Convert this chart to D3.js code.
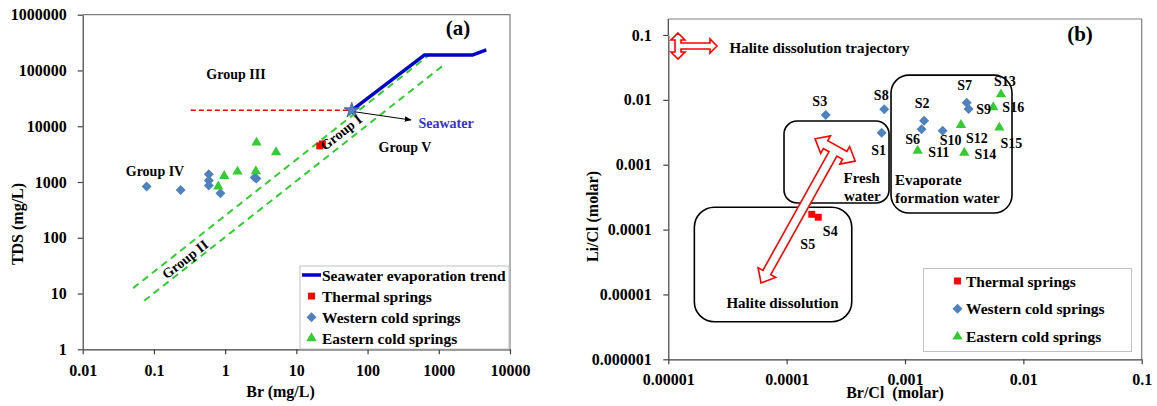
<!DOCTYPE html>
<html>
<head>
<meta charset="utf-8">
<script src="https://cdn.jsdelivr.net/npm/d3@7"></script>
<style>
  html, body { margin: 0; padding: 0; background: #fff; }
  svg text { font-family: "Liberation Serif", "Times New Roman", serif; font-weight: bold; }
</style>
</head>
<body>
<svg id="chart" width="1157" height="406"></svg>
<script>
// ---------- Panel (a): Br vs TDS ----------
const brTickValues = [0.01, 0.1, 1, 10, 100, 1000, 10000];
const brTickLabels = ["0.01", "0.1", "1", "10", "100", "1000", "10000"];
const tdsTickValues = [1, 10, 100, 1000, 10000, 100000, 1000000];
const tdsTickLabels = ["1", "10", "100", "1000", "10000", "100000", "1000000"];

const thermalBr = [23.2, 21.3];
const thermalTDS = [4820, 4440];
const westernBr = [0.079, 0.237, 0.59, 0.59, 0.59, 0.86, 2.6, 2.75];
const westernTDS = [828, 721, 1380, 1059, 862, 630, 1210, 1150];
const easternBr = [0.80, 0.97, 1.49, 2.76, 2.70, 5.19];
const easternTDS = [828, 1285, 1536, 5080, 1563, 3420];
const seawaterBr = [60];
const seawaterTDS = [19300];
const trendBr = [60, 632, 3010, 4640];
const trendTDS = [19300, 190000, 190000, 233000];
const halitePathBr = [0.33, 60];
const halitePathTDS = [19300, 19300];
const upperGuideBr = [0.051, 785];
const upperGuideTDS = [12.5, 203000];
const lowerGuideBr = [0.073, 1167];
const lowerGuideTDS = [7.4, 125000];

// ---------- Panel (b): Br/Cl vs Li/Cl ----------
const brclTickValues = [1e-5, 1e-4, 1e-3, 1e-2, 1e-1];
const brclTickLabels = ["0.00001", "0.0001", "0.001", "0.01", "0.1"];
const liclTickValues = [1e-6, 1e-5, 1e-4, 1e-3, 1e-2, 1e-1];
const liclTickLabels = ["0.000001", "0.00001", "0.0001", "0.001", "0.01", "0.1"];

const thermalNames = ["S5", "S4"];
const thermalBrCl = [0.000163, 0.000185];
const thermalLiCl = [0.000172, 0.000155];
const westernNames = ["S3", "S8", "S1", "S2", "S6", "S10", "S7", "S9"];
const westernBrCl = [0.000214, 0.000668, 0.000635, 0.00145, 0.00138, 0.00208, 0.00332, 0.00345];
const westernLiCl = [0.00585, 0.00715, 0.00312, 0.00477, 0.00352, 0.00335, 0.00904, 0.00723];
const easternNames = ["S13", "S16", "S12", "S15", "S11", "S14"];
const easternBrCl = [0.00647, 0.00557, 0.00297, 0.00627, 0.00128, 0.00317];
const easternLiCl = [0.01217, 0.00768, 0.0041, 0.00373, 0.00164, 0.00153];

// Field boxes in data units: [brclMin, brclMax, liclMin, liclMax]
const freshBox = [9.5e-5, 7.33e-4, 2.57e-4, 4.72e-3];
const evaporiteBox = [7.62e-4, 8.02e-3, 1.80e-4, 2.41e-2];
const haliteBox = [1.66e-5, 3.55e-4, 3.80e-6, 2.21e-4];
// Halite dissolution trajectory: crossbar centre -> tip
const trajectoryBrCl = [2.57e-4, 6.07e-5];
const trajectoryLiCl = [1.69e-3, 1.50e-5];

// label offsets (px) for sample names
const labelOffsets = {
  S3: [-6, -14], S8: [-3, -14], S1: [-3, 17], S2: [-2, -18], S6: [-9, 10],
  S10: [8, 9], S7: [-2, -18], S9: [15, 0], S13: [4, -13], S16: [20, 0],
  S12: [16, 13], S15: [12, 15], S11: [21, 1], S14: [21, 1], S4: [12, 14], S5: [-4, 30]
};

const COL_RED = "#ff0000", COL_BLUE = "#4f81bd", COL_GREEN = "#33cc33";

const svg = d3.select("#chart");

// ---------- helpers ----------
// diamond = square turned 45 degrees
const diamondPath = d3.symbol().type(d3.symbolSquare).size(50)();
const square = d3.symbol().type(d3.symbolSquare).size(48);
const triangle = d3.symbol().type(d3.symbolTriangle).size(46);
const star = d3.symbol().type(d3.symbolStar).size(75);

function styleAxis(g) {
  g.select(".domain").attr("stroke", "#404040").attr("stroke-width", 1.2);
  g.selectAll(".tick line").attr("stroke", "#404040").attr("stroke-width", 1.2);
  g.selectAll(".tick text").attr("fill", "#000").attr("font-size", 16)
    .attr("font-family", "Liberation Serif").attr("font-weight", "bold");
}

function tArrow(g, x0, y0, x1, y1, C, w, hw, hl) {
  const L = Math.hypot(x1 - x0, y1 - y0);
  const ang = Math.atan2(y1 - y0, x1 - x0) * 180 / Math.PI;
  const pts = [
    [0, -C], [hw, -C + hl], [w, -C + hl], [w, -w], [L - hl, -w], [L - hl, -hw], [L, 0],
    [L - hl, hw], [L - hl, w], [w, w], [w, C - hl], [hw, C - hl], [0, C],
    [-hw, C - hl], [-w, C - hl], [-w, -C + hl], [-hw, -C + hl]
  ];
  g.append("path")
    .attr("d", "M" + pts.map(p => p.join(",")).join("L") + "Z")
    .attr("transform", `translate(${x0},${y0}) rotate(${ang})`)
    .attr("fill", "#fff").attr("stroke", COL_RED).attr("stroke-width", 1.6)
    .attr("stroke-linejoin", "miter");
}

// ================= Panel (a) =================
const xA = d3.scaleLog().domain([0.01, 10000]).range([82.7, 510]);
const yA = d3.scaleLog().domain([1, 1e6]).range([349.3, 14.7]);
const gA = svg.append("g");

// plot frame (top / right)
gA.append("path")
  .attr("d", `M${xA(0.01)},${yA(1e6)}H${xA(10000)}V${yA(1)}`)
  .attr("fill", "none").attr("stroke", "#808080").attr("stroke-width", 1.2);

const axA_x = gA.append("g").attr("transform", `translate(0,${yA(1)})`)
  .call(d3.axisBottom(xA).tickValues(brTickValues)
    .tickFormat((d, i) => brTickLabels[i]).tickSize(5).tickSizeOuter(0).tickPadding(10));
styleAxis(axA_x);
const axA_y = gA.append("g").attr("transform", `translate(${xA(0.01)},0)`)
  .call(d3.axisLeft(yA).tickValues(tdsTickValues)
    .tickFormat((d, i) => tdsTickLabels[i]).tickSize(5).tickSizeOuter(0).tickPadding(11));
styleAxis(axA_y);

const lineA = d3.line().x(d => xA(d[0])).y(d => yA(d[1]));

// slope-one guide lines (Group I / II)
[[upperGuideBr, upperGuideTDS], [lowerGuideBr, lowerGuideTDS]].forEach(([bx, ty]) => {
  gA.append("path").attr("d", lineA(d3.zip(bx, ty)))
    .attr("fill", "none").attr("stroke", COL_GREEN).attr("stroke-width", 2)
    .attr("stroke-dasharray", "7,5");
});

// halite dissolution line to seawater
gA.append("path").attr("d", lineA(d3.zip(halitePathBr, halitePathTDS)))
  .attr("fill", "none").attr("stroke", COL_RED).attr("stroke-width", 1.6)
  .attr("stroke-dasharray", "5,3");

// seawater evaporation trend
gA.append("path").attr("d", lineA(d3.zip(trendBr, trendTDS)))
  .attr("fill", "none").attr("stroke", "#0000cc").attr("stroke-width", 3.5)
  .attr("stroke-linejoin", "round");

// points
gA.selectAll(".wA").data(d3.zip(westernBr, westernTDS)).join("path")
  .attr("d", diamondPath).attr("fill", COL_BLUE)
  .attr("transform", d => `translate(${xA(d[0])},${yA(d[1])}) rotate(45)`);
gA.selectAll(".eA").data(d3.zip(easternBr, easternTDS)).join("path")
  .attr("d", triangle).attr("fill", COL_GREEN)
  .attr("transform", d => `translate(${xA(d[0])},${yA(d[1])})`);
gA.selectAll(".tA").data(d3.zip(thermalBr, thermalTDS)).join("path")
  .attr("d", square).attr("fill", COL_RED)
  .attr("transform", d => `translate(${xA(d[0])},${yA(d[1])})`);
gA.selectAll(".sA").data(d3.zip(seawaterBr, seawaterTDS)).join("path")
  .attr("d", star).attr("fill", COL_BLUE).attr("stroke", "#3d5f8a").attr("stroke-width", 0.8)
  .attr("transform", d => `translate(${xA(d[0])},${yA(d[1])})`);

// seawater pointer
svg.append("defs").append("marker").attr("id", "ah")
  .attr("viewBox", "0 0 10 10").attr("refX", 9).attr("refY", 5)
  .attr("markerWidth", 7).attr("markerHeight", 7).attr("orient", "auto")
  .append("path").attr("d", "M0,1L10,5L0,9Z").attr("fill", "#000");
gA.append("line")
  .attr("x1", xA(seawaterBr[0]) + 3).attr("y1", yA(seawaterTDS[0]) + 1.5)
  .attr("x2", 411).attr("y2", 120)
  .attr("stroke", "#000").attr("stroke-width", 1).attr("marker-end", "url(#ah)");

// annotations
const txt = (g, x, y, s, size, opt = {}) => g.append("text")
  .attr("x", x).attr("y", y).attr("font-size", size)
  .attr("text-anchor", opt.anchor || "middle").attr("fill", opt.fill || "#000")
  .attr("transform", opt.rotate ? `rotate(${opt.rotate},${x},${y})` : null)
  .text(s);

txt(gA, 458, 35, "(a)", 21);
txt(gA, 236, 79, "Group III", 14);
txt(gA, 155, 175.5, "Group IV", 14);
txt(gA, 405, 152, "Group V", 14);
txt(gA, 446, 128.3, "Seawater", 14, { fill: "#3333cc" });
txt(gA, 344, 136, "Group I", 14, { rotate: -38 });
txt(gA, 188, 263, "Group II", 14, { rotate: -38 });

txt(gA, 280.5, 397, "Br (mg/L)", 16);
gA.append("text").attr("font-size", 16).attr("text-anchor", "middle")
  .attr("transform", "translate(23,224) rotate(-90)").text("TDS (mg/L)");

// legend (a)
const legA = gA.append("g");
legA.append("rect").attr("x", 300).attr("y", 266).attr("width", 209).attr("height", 83)
  .attr("fill", "#fff").attr("stroke", "#c0c0c0").attr("stroke-width", 1);
const legAItems = [
  { kind: "line", label: "Seawater evaporation trend" },
  { kind: "square", label: "Thermal springs" },
  { kind: "diamond", label: "Western cold springs" },
  { kind: "triangle", label: "Eastern cold springs" }
];
legAItems.forEach((it, i) => {
  const y = 275 + i * 21.1;
  if (it.kind === "line") {
    legA.append("line").attr("x1", 302).attr("x2", 321).attr("y1", y).attr("y2", y)
      .attr("stroke", "#0000cc").attr("stroke-width", 3.5);
  } else if (it.kind === "diamond") {
    legA.append("path").attr("d", diamondPath).attr("fill", COL_BLUE)
      .attr("transform", `translate(311.5,${y}) rotate(45)`);
  } else {
    const sym = it.kind === "square" ? square : triangle;
    const col = it.kind === "square" ? COL_RED : COL_GREEN;
    legA.append("path").attr("d", sym).attr("fill", col)
      .attr("transform", `translate(311.5,${y})`);
  }
  legA.append("text").attr("x", 322).attr("y", y + 5.5).attr("font-size", 15.5).text(it.label);
});

// ================= Panel (b) =================
const xB = d3.scaleLog().domain([1e-5, 0.1]).range([668.3, 1141.7]);
const yB = d3.scaleLog().domain([1e-6, 0.1]).range([359.3, 35]);
const gB = svg.append("g");
const frameTopB = 19;

gB.append("path")
  .attr("d", `M${xB(1e-5)},${frameTopB}H${xB(0.1)}V${yB(1e-6)}`)
  .attr("fill", "none").attr("stroke", "#808080").attr("stroke-width", 1.2);
gB.append("line").attr("x1", xB(1e-5)).attr("x2", xB(1e-5))
  .attr("y1", frameTopB).attr("y2", yB(0.1)).attr("stroke", "#404040").attr("stroke-width", 1.2);

const axB_x = gB.append("g").attr("transform", `translate(0,${yB(1e-6)})`)
  .call(d3.axisBottom(xB).tickValues(brclTickValues)
    .tickFormat((d, i) => brclTickLabels[i]).tickSize(5).tickSizeOuter(0).tickPadding(9));
styleAxis(axB_x);
const axB_y = gB.append("g").attr("transform", `translate(${xB(1e-5)},0)`)
  .call(d3.axisLeft(yB).tickValues(liclTickValues)
    .tickFormat((d, i) => liclTickLabels[i]).tickSize(5).tickSizeOuter(0).tickPadding(11.5));
styleAxis(axB_y);

// field boxes
function fieldBox(b, r) {
  const x0 = xB(b[0]), x1 = xB(b[1]), y0 = yB(b[3]), y1 = yB(b[2]);
  gB.append("rect").attr("x", x0).attr("y", y0).attr("width", x1 - x0).attr("height", y1 - y0)
    .attr("rx", r).attr("ry", r).attr("fill", "none").attr("stroke", "#000").attr("stroke-width", 1.6);
}
fieldBox(haliteBox, 20);
fieldBox(freshBox, 13);
fieldBox(evaporiteBox, 18);

// trajectory arrow
tArrow(gB, xB(trajectoryBrCl[0]), yB(trajectoryLiCl[0]), xB(trajectoryBrCl[1]), yB(trajectoryLiCl[1]),
  23, 4.5, 10, 12);

// points
gB.selectAll(".wB").data(d3.zip(westernBrCl, westernLiCl)).join("path")
  .attr("d", diamondPath).attr("fill", COL_BLUE)
  .attr("transform", d => `translate(${xB(d[0])},${yB(d[1])}) rotate(45)`);
gB.selectAll(".eB").data(d3.zip(easternBrCl, easternLiCl)).join("path")
  .attr("d", triangle).attr("fill", COL_GREEN)
  .attr("transform", d => `translate(${xB(d[0])},${yB(d[1])})`);
gB.selectAll(".tB").data(d3.zip(thermalBrCl, thermalLiCl)).join("path")
  .attr("d", square).attr("fill", COL_RED)
  .attr("transform", d => `translate(${xB(d[0])},${yB(d[1])})`);

// sample names
const named = [
  ...d3.zip(westernNames, westernBrCl, westernLiCl),
  ...d3.zip(easternNames, easternBrCl, easternLiCl),
  ...d3.zip(thermalNames, thermalBrCl, thermalLiCl)
];
named.forEach(([n, bx, ly]) => {
  const o = labelOffsets[n];
  txt(gB, xB(bx) + o[0], yB(ly) + o[1] + 5, n, 14);
});

// text annotations
txt(gB, 1080, 41, "(b)", 21);
txt(gB, 729.5, 52.5, "Halite dissolution trajectory", 15, { anchor: "start" });
txt(gB, 843.5, 183, "Fresh", 15, { anchor: "start" });
txt(gB, 844, 200.5, "water", 15, { anchor: "start" });
txt(gB, 895, 184.5, "Evaporate", 15, { anchor: "start" });
txt(gB, 895, 203, "formation water", 15, { anchor: "start" });
txt(gB, 782.5, 308, "Halite dissolution", 15);

// trajectory legend icon
tArrow(gB, 678, 46, 717, 46, 13, 3, 7, 7);

txt(gB, 895, 398, "Br/Cl\u00a0 (molar)", 16);
gB.append("text").attr("font-size", 16).attr("text-anchor", "middle")
  .attr("transform", "translate(597.5,216.5) rotate(-90)").text("Li/Cl (molar)");

// legend (b)
const legB = gB.append("g");
legB.append("rect").attr("x", 923.5).attr("y", 268.5).attr("width", 208).attr("height", 83)
  .attr("fill", "#fff").attr("stroke", "#c0c0c0").attr("stroke-width", 1);
[
  { sym: square, col: COL_RED, label: "Thermal springs", rot: 0 },
  { sym: diamondPath, col: COL_BLUE, label: "Western cold springs", rot: 45 },
  { sym: triangle, col: COL_GREEN, label: "Eastern cold springs", rot: 0 }
].forEach((it, i) => {
  const y = 281 + i * 27.8;
  legB.append("path").attr("d", it.sym).attr("fill", it.col)
    .attr("transform", `translate(957.5,${y}) rotate(${it.rot})`);
  legB.append("text").attr("x", 966).attr("y", y + 5.5).attr("font-size", 15.5).text(it.label);
});
</script>
</body>
</html>
